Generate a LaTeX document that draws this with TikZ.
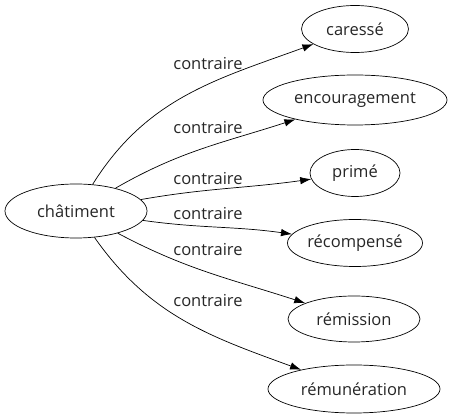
\documentclass[tikz,border=0pt]{standalone}
\usepackage{fontspec}
\setmainfont{Open Sans}
\usetikzlibrary{shapes.geometric,arrows.meta}
\begin{document}
\begin{tikzpicture}[x=1pt,y=-1pt,
  word/.style={draw=black,line width=0.7pt,ellipse,minimum width=#1,minimum height=47pt,inner sep=0pt,text=black!85,font=\fontsize{16.5}{16.5}\selectfont},
  lab/.style={text=black!85,font=\fontsize{16.5}{16.5}\selectfont,inner sep=0pt},
  rel/.style={draw=black,line width=0.7pt,-{Latex[length=11pt,width=7.5pt]}}]
\useasboundingbox (0,0) rectangle (453,419);
\node[word=142pt,minimum height=54pt] (c) at (76,211) {châtiment};
\node[word=107pt] (a1) at (355,29) {caressé};
\node[word=184pt,minimum height=50pt] (a2) at (355,100) {encouragement};
\node[word=90pt] (a3) at (355,173) {primé};
\node[word=116pt] (a4) at (355,243) {récompensé};
\node[word=132pt,minimum height=46pt] (a5) at (354,319) {rémission};
\node[word=172pt,minimum height=48pt] (a6) at (354,389) {rémunération};
\node[lab] (l1) at (208,64) {contraire};
\node[lab] (l2) at (208,128) {contraire};
\node[lab] (l3) at (208,179) {contraire};
\node[lab] (l4) at (208,214) {contraire};
\node[lab] (l5) at (208,250) {contraire};
\node[lab] (l6) at (208,301) {contraire};
\draw[rel] (c) to[out=58,in=200] (a1);
\draw[rel] (c) to[out=30,in=198] (a2);
\draw[rel] (c) to[out=10,in=188] (a3);
\draw[rel] (c) to[out=-8,in=172] (a4);
\draw[rel] (c) to[out=-28,in=162] (a5);
\draw[rel] (c) to[out=-55,in=160] (a6);
\end{tikzpicture}
\end{document}
